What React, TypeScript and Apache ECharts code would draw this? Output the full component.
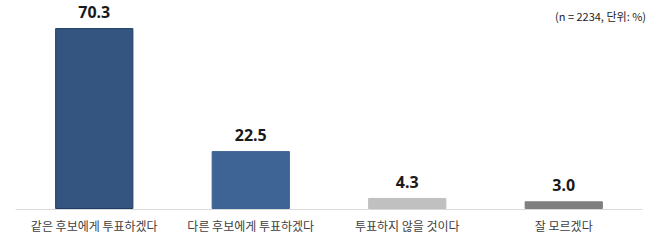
import React, { useEffect, useRef } from "react";
import * as echarts from "echarts";

const categories = ["같은 후보에게 투표하겠다", "다른 후보에게 투표하겠다", "투표하지 않을 것이다", "잘 모르겠다"];
const values = [70.3, 22.5, 4.3, 3.0];
const colors = ["#34557F", "#3D6495", "#C0C0C0", "#7F7F7F"];
const borders = ["#1F3E66", "#3D6495", "#C0C0C0", "#7F7F7F"];
const noteText = "(n = 2234, 단위: %)";

export default function App() {
  const ref = useRef<HTMLDivElement>(null);
  useEffect(() => {
    const chart = echarts.init(ref.current!, undefined, { renderer: "svg" });
    chart.setOption({
      animation: false,
      textStyle: { fontFamily: "'Noto Sans CJK KR', 'Noto Sans', sans-serif" },
      grid: { left: 16, right: 16, top: 16, bottom: 37 },
      graphic: [
        {
          type: "text",
          right: 12,
          top: 10,
          style: { text: noteText, fontSize: 11, fill: "#222", fontFamily: "'Noto Sans CJK KR', sans-serif" },
        },
      ],
      xAxis: {
        type: "category",
        data: categories,
        axisLine: { lineStyle: { color: "#D9D9D9", width: 1 } },
        axisTick: { show: false },
        axisLabel: { color: "#404040", fontSize: 12, margin: 10, interval: 0 },
      },
      yAxis: { type: "value", min: 0, max: 75, show: false, splitLine: { show: false } },
      series: [
        {
          type: "bar",
          barWidth: "50%",
          data: values.map((v, i) => ({
            value: v,
            itemStyle: { color: colors[i], borderColor: borders[i], borderWidth: 1 },
          })),
          label: {
            show: true,
            position: "top",
            distance: 8,
            formatter: (p: any) => p.value.toFixed(1),
            fontSize: 16,
            fontWeight: "bold",
            color: "#1A1A1A",
            fontFamily: "'Noto Sans', sans-serif",
          },
        },
      ],
    });
    return () => chart.dispose();
  }, []);
  return <div ref={ref} style={{ width: 658, height: 246, position: "absolute", left: 0, top: 0 }} />;
}
